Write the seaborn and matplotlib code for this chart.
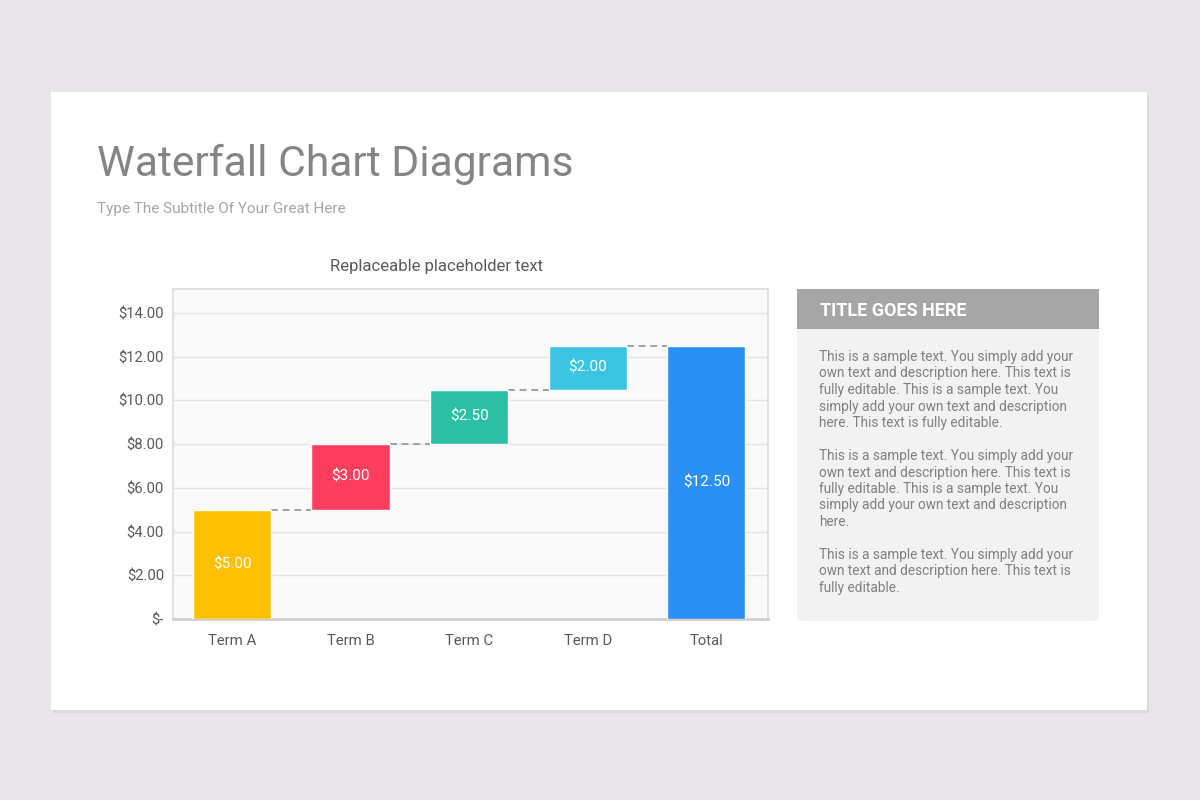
import numpy as np
import matplotlib
matplotlib.use("Agg")
import matplotlib.pyplot as plt
import seaborn as sns
from matplotlib.patches import Rectangle, FancyBboxPatch
from matplotlib.ticker import FuncFormatter

# data
categories = ["Term A", "Term B", "Term C", "Term D", "Total"]
steps = [5.0, 3.0, 2.5, 2.0]
bar_colors = ["#FFC000", "#FF3D5F", "#2BBFA4", "#3CC5E2", "#2A90F6"]
y_ticks = [0, 2, 4, 6, 8, 10, 12, 14]

title = "Waterfall Chart Diagrams"
subtitle = "Type The Subtitle Of Your Great Here"
chart_title = "Replaceable placeholder text"
panel_title = "TITLE GOES HERE"
panel_paragraphs = [
    ["This is a sample text. You simply add your",
     "own text and description here. This text is",
     "fully editable. This is a sample text. You",
     "simply add your own text and description",
     "here. This text is fully editable."],
    ["This is a sample text. You simply add your",
     "own text and description here. This text is",
     "fully editable. This is a sample text. You",
     "simply add your own text and description",
     "here."],
    ["This is a sample text. You simply add your",
     "own text and description here. This text is",
     "fully editable."],
]

total = float(np.sum(steps))
heights = steps + [total]
tops = list(np.cumsum(steps)) + [total]
bottoms = [t - h for t, h in zip(tops, heights)]

sns.set_theme(style="white")
plt.rcParams["font.family"] = ["Roboto", "DejaVu Sans"]

fig = plt.figure(figsize=(12, 8), dpi=100)
fig.patch.set_facecolor("#E8E6E8")

# background canvas in pixel coordinates
bg = fig.add_axes([0, 0, 1, 1], zorder=-1)
bg.set_xlim(0, 1200)
bg.set_ylim(800, 0)
bg.axis("off")
bg.add_patch(Rectangle((53, 95), 1096, 618, facecolor="#DCDADC", edgecolor="none"))
bg.add_patch(Rectangle((51, 92), 1096, 618, facecolor="white", edgecolor="none"))

bg.text(97, 164, title, fontsize=30.7, color="#858585", va="center", ha="left")
bg.text(97, 209, subtitle, fontsize=11, color="#A6A6A6", va="center", ha="left")
bg.text(437, 266, chart_title, fontsize=12, color="#595959", va="center", ha="center")

# right panel
bg.add_patch(FancyBboxPatch((797, 300), 302, 321, boxstyle="round,pad=0,rounding_size=5",
                            facecolor="#F2F2F2", edgecolor="none"))
bg.add_patch(Rectangle((797, 289), 302, 40, facecolor="#A6A6A6", edgecolor="none"))
bg.text(820, 311, panel_title, fontsize=13, fontweight="bold", color="white",
        va="center", ha="left")
y0 = 357
for para in panel_paragraphs:
    for j, line in enumerate(para):
        bg.text(819, y0 + j * 16.5, line, fontsize=9.8, color="#808080",
                va="center", ha="left")
    y0 += 99

# chart
ax = fig.add_axes([173 / 1200, 1 - 619 / 800, 595 / 1200, 330 / 800])
ax.set_facecolor("#FAFAFA")
for i, cat in enumerate(categories):
    sns.barplot(x=[cat], y=[heights[i]], order=categories, bottom=bottoms[i],
                color=bar_colors[i], saturation=1, width=0.66, ax=ax, zorder=3)
    ax.text(i, bottoms[i] + heights[i] / 2, f"${heights[i]:.2f}", ha="center",
            va="center", color="white", fontsize=11, zorder=4)

for i in range(len(categories) - 1):
    ax.plot([i + 0.33, i + 1 - 0.33], [tops[i], tops[i]], color="#A0A0A0",
            lw=1.4, ls=(0, (3.5, 2.5)), zorder=2)

ax.set_xlim(-0.497, 4.52)
ax.set_ylim(0, 15.1)
ax.set_yticks(y_ticks)
ax.yaxis.set_major_formatter(FuncFormatter(lambda v, p: "$-" if v == 0 else f"${v:.2f}"))
ax.grid(axis="y", color="#E3E3E3", lw=1, zorder=0)
ax.grid(axis="x", visible=False)
ax.set_axisbelow(True)
ax.set_xlabel("")
ax.set_ylabel("")
ax.tick_params(axis="both", length=0, labelsize=10.7, labelcolor="#595959")
ax.tick_params(axis="y", pad=6.5)
ax.tick_params(axis="x", pad=10.5)
for side in ["top", "left", "right"]:
    ax.spines[side].set_color("#DCDCDC")
    ax.spines[side].set_linewidth(1.2)
ax.spines["bottom"].set_color("#D0D0D0")
ax.spines["bottom"].set_linewidth(2)

fig.savefig("out.png", dpi=100)
